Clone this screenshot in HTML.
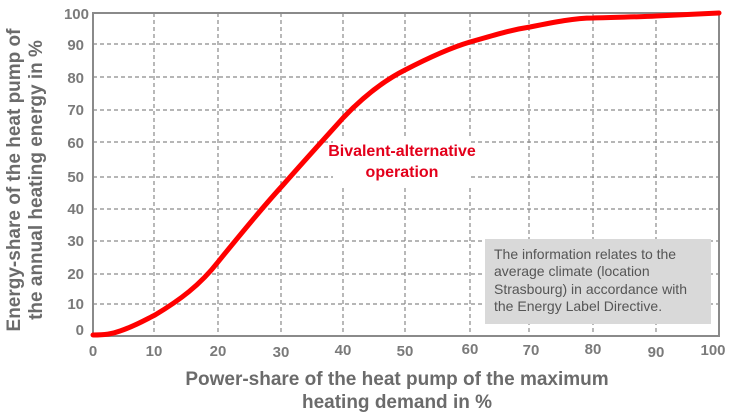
<!DOCTYPE html>
<html><head><style>
body{margin:0;background:#fff;}
svg{display:block;font-family:"Liberation Sans",Arial,sans-serif;}
</style></head><body>
<svg width="730" height="412" viewBox="0 0 730 412">
<g stroke="#8a8a8a" stroke-width="1.2" stroke-dasharray="4,3" fill="none">
<line x1="93" y1="44" x2="719" y2="44"/><line x1="93" y1="77" x2="719" y2="77"/>
<line x1="93" y1="110" x2="719" y2="110"/><line x1="93" y1="142" x2="719" y2="142"/>
<line x1="93" y1="177" x2="719" y2="177"/><line x1="93" y1="209" x2="719" y2="209"/>
<line x1="93" y1="241" x2="719" y2="241"/><line x1="93" y1="274" x2="719" y2="274"/>
<line x1="93" y1="304" x2="719" y2="304"/>
<line x1="154" y1="13" x2="154" y2="336"/><line x1="218" y1="13" x2="218" y2="336"/>
<line x1="281" y1="13" x2="281" y2="336"/><line x1="343" y1="13" x2="343" y2="336"/>
<line x1="405" y1="13" x2="405" y2="336"/><line x1="470" y1="13" x2="470" y2="336"/>
<line x1="529" y1="13" x2="529" y2="336"/><line x1="593" y1="13" x2="593" y2="336"/>
<line x1="656" y1="13" x2="656" y2="336"/>
</g>
<rect x="93" y="13" width="626" height="323" fill="none" stroke="#8a8a8a" stroke-width="2"/>
<rect x="333" y="136" width="138" height="50" fill="#fff"/>
<rect x="485" y="239" width="226" height="85" fill="#d9d9d9"/>
<path d="M93,335 C105,335 112,334 120,331 C135,326 145,320 155,315 C180,300 200,285 218,262 C240,235 260,210 283,185 C305,160 325,138 343,118 C365,95 385,80 405,70 C430,57 450,48 470,42 C495,35 510,30 530,27 C555,22 575,18 593,18 C620,17 640,17 656,16 C680,15 700,14 719,13" fill="none" stroke="#f00" stroke-width="5" stroke-linecap="round"/>
<g fill="#e3001b" font-weight="bold" font-size="16" text-anchor="middle">
<text x="402" y="156">Bivalent-alternative</text><text x="402" y="177">operation</text></g>
<g fill="#555" font-size="14">
<text x="494" y="259">The information relates to the</text>
<text x="494" y="276">average climate (location</text>
<text x="494" y="294">Strasbourg) in accordance with</text>
<text x="494" y="311">the Energy Label Directive.</text></g>
<g fill="#7a7a7a" font-weight="bold" font-size="15" text-anchor="end">
<text x="89" y="19">100</text><text x="84" y="50">90</text><text x="84" y="83">80</text>
<text x="84" y="115">70</text><text x="84" y="148">60</text><text x="84" y="182">50</text>
<text x="84" y="214">40</text><text x="84" y="246">30</text><text x="84" y="279">20</text>
<text x="84" y="309">10</text><text x="84" y="335">0</text></g>
<g fill="#7a7a7a" font-weight="bold" font-size="15" text-anchor="middle">
<text x="93" y="356">0</text><text x="154" y="356">10</text><text x="218" y="356">20</text>
<text x="281" y="357">30</text><text x="343" y="355">40</text><text x="405" y="356">50</text>
<text x="470" y="354">60</text><text x="531" y="355">70</text><text x="593" y="354">80</text>
<text x="656" y="357">90</text><text x="713" y="355">100</text></g>
<g fill="#6b6b6b" font-weight="bold" font-size="19" text-anchor="middle">
<text x="397" y="385">Power-share of the heat pump of the maximum</text>
<text x="397" y="408">heating demand in %</text>
<g transform="translate(20,180) rotate(-90)"><text x="0" y="0">Energy-share of the heat pump of</text>
<text x="0" y="22">the annual heating energy in %</text></g></g>
</svg>
</body></html>
